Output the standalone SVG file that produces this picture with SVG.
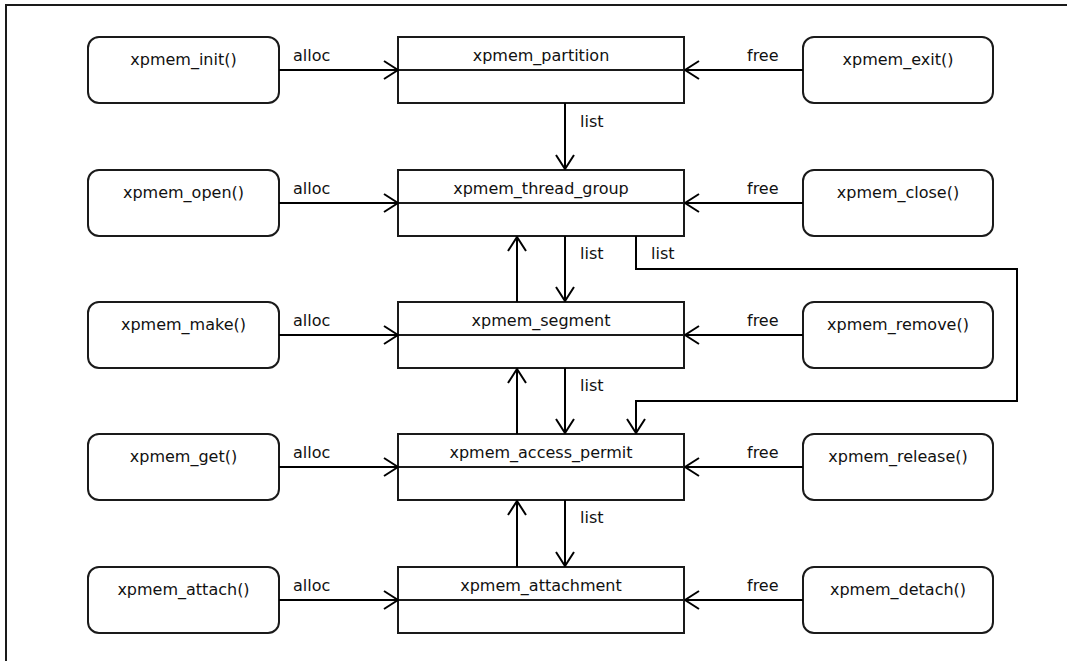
<svg xmlns="http://www.w3.org/2000/svg" width="1067" height="661" viewBox="0 0 1067 661">
  <style>
    .frame { fill: #ffffff; stroke: #1a1a1a; stroke-width: 2; }
    .func { fill: #ffffff; stroke: #1a1a1a; stroke-width: 2; }
    .cls { fill: #ffffff; stroke: #1a1a1a; stroke-width: 2; }
    .sep { stroke: #1a1a1a; stroke-width: 2; }
    .edge { fill: none; stroke: #000000; stroke-width: 2; }
    text { font-family: "DejaVu Sans", "Liberation Sans", sans-serif; font-size: 16px; fill: #111111; }
    .mid { text-anchor: middle; }
  </style>
  <defs>
    <marker id="open" viewBox="0 0 16 20" refX="15" refY="10" markerWidth="16" markerHeight="20" markerUnits="userSpaceOnUse" orient="auto">
      <path d="M1,1 L15,10 L1,19" fill="none" stroke="#000000" stroke-width="2"/>
    </marker>
  </defs>

  <rect class="frame" x="6" y="5" width="1080" height="680"/>

  <!-- allocating functions -->
  <g id="xpmem_init"><rect class="func" x="88" y="37" width="191" height="66" rx="11"/><text class="mid" x="183.5" y="65">xpmem_init()</text></g>
  <g id="xpmem_open"><rect class="func" x="88" y="170" width="191" height="66" rx="11"/><text class="mid" x="183.5" y="198">xpmem_open()</text></g>
  <g id="xpmem_make"><rect class="func" x="88" y="302" width="191" height="66" rx="11"/><text class="mid" x="183.5" y="330">xpmem_make()</text></g>
  <g id="xpmem_get"><rect class="func" x="88" y="434" width="191" height="66" rx="11"/><text class="mid" x="183.5" y="462">xpmem_get()</text></g>
  <g id="xpmem_attach"><rect class="func" x="88" y="567" width="191" height="66" rx="11"/><text class="mid" x="183.5" y="595">xpmem_attach()</text></g>

  <!-- structures -->
  <g id="xpmem_partition"><rect class="cls" x="398" y="37" width="286" height="66"/><line class="sep" x1="398" y1="70" x2="684" y2="70"/><text class="mid" x="541" y="61">xpmem_partition</text></g>
  <g id="xpmem_thread_group"><rect class="cls" x="398" y="170" width="286" height="66"/><line class="sep" x1="398" y1="203" x2="684" y2="203"/><text class="mid" x="541" y="194">xpmem_thread_group</text></g>
  <g id="xpmem_segment"><rect class="cls" x="398" y="302" width="286" height="66"/><line class="sep" x1="398" y1="335" x2="684" y2="335"/><text class="mid" x="541" y="326">xpmem_segment</text></g>
  <g id="xpmem_access_permit"><rect class="cls" x="398" y="434" width="286" height="66"/><line class="sep" x1="398" y1="467" x2="684" y2="467"/><text class="mid" x="541" y="458">xpmem_access_permit</text></g>
  <g id="xpmem_attachment"><rect class="cls" x="398" y="567" width="286" height="66"/><line class="sep" x1="398" y1="600" x2="684" y2="600"/><text class="mid" x="541" y="591">xpmem_attachment</text></g>

  <!-- freeing functions -->
  <g id="xpmem_exit"><rect class="func" x="803" y="37" width="190" height="66" rx="11"/><text class="mid" x="898" y="65">xpmem_exit()</text></g>
  <g id="xpmem_close"><rect class="func" x="803" y="170" width="190" height="66" rx="11"/><text class="mid" x="898" y="198">xpmem_close()</text></g>
  <g id="xpmem_remove"><rect class="func" x="803" y="302" width="190" height="66" rx="11"/><text class="mid" x="898" y="330">xpmem_remove()</text></g>
  <g id="xpmem_release"><rect class="func" x="803" y="434" width="190" height="66" rx="11"/><text class="mid" x="898" y="462">xpmem_release()</text></g>
  <g id="xpmem_detach"><rect class="func" x="803" y="567" width="190" height="66" rx="11"/><text class="mid" x="898" y="595">xpmem_detach()</text></g>

  <g id="connectors">
    <!-- alloc -->
    <line class="edge" x1="279" y1="70" x2="398" y2="70" marker-end="url(#open)"/>
    <line class="edge" x1="279" y1="203" x2="398" y2="203" marker-end="url(#open)"/>
    <line class="edge" x1="279" y1="335" x2="398" y2="335" marker-end="url(#open)"/>
    <line class="edge" x1="279" y1="467" x2="398" y2="467" marker-end="url(#open)"/>
    <line class="edge" x1="279" y1="600" x2="398" y2="600" marker-end="url(#open)"/>
    <!-- free -->
    <line class="edge" x1="803" y1="70" x2="685" y2="70" marker-end="url(#open)"/>
    <line class="edge" x1="803" y1="203" x2="685" y2="203" marker-end="url(#open)"/>
    <line class="edge" x1="803" y1="335" x2="685" y2="335" marker-end="url(#open)"/>
    <line class="edge" x1="803" y1="467" x2="685" y2="467" marker-end="url(#open)"/>
    <line class="edge" x1="803" y1="600" x2="685" y2="600" marker-end="url(#open)"/>
    <!-- list (down) -->
    <line class="edge" x1="565" y1="103" x2="565" y2="169" marker-end="url(#open)"/>
    <line class="edge" x1="565" y1="236" x2="565" y2="301" marker-end="url(#open)"/>
    <line class="edge" x1="565" y1="368" x2="565" y2="433" marker-end="url(#open)"/>
    <line class="edge" x1="565" y1="500" x2="565" y2="566" marker-end="url(#open)"/>
    <!-- owner (up) -->
    <line class="edge" x1="517" y1="302" x2="517" y2="237" marker-end="url(#open)"/>
    <line class="edge" x1="517" y1="434" x2="517" y2="369" marker-end="url(#open)"/>
    <line class="edge" x1="517" y1="567" x2="517" y2="501" marker-end="url(#open)"/>
    <!-- thread group to access permit -->
    <path class="edge" d="M636,236 V269 H1017 V401 H636 V433" marker-end="url(#open)"/>

    <text x="293" y="61">alloc</text>
    <text x="293" y="194">alloc</text>
    <text x="293" y="326">alloc</text>
    <text x="293" y="458">alloc</text>
    <text x="293" y="591">alloc</text>
    <text x="747" y="61">free</text>
    <text x="747" y="194">free</text>
    <text x="747" y="326">free</text>
    <text x="747" y="458">free</text>
    <text x="747" y="591">free</text>
    <text x="580" y="127">list</text>
    <text x="580" y="259">list</text>
    <text x="651" y="259">list</text>
    <text x="580" y="391">list</text>
    <text x="580" y="523">list</text>
  </g>
</svg>
